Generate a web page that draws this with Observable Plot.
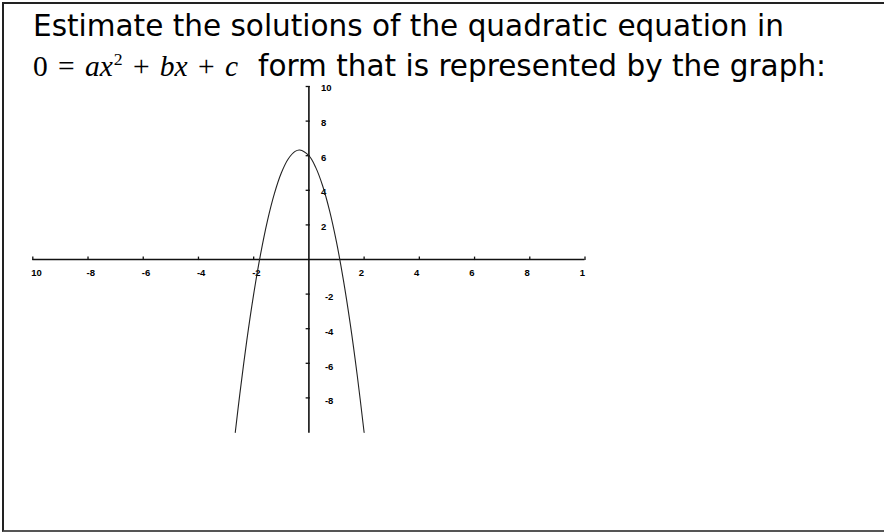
<!DOCTYPE html>
<html>
<head>
<meta charset="utf-8">
<script src="https://cdn.jsdelivr.net/npm/d3@7"></script>
<script src="https://cdn.jsdelivr.net/npm/@observablehq/plot@0.6"></script>
<style>
  html, body { margin: 0; padding: 0; background: #fff; }
  #slide { position: relative; width: 884px; height: 532px; overflow: hidden; background: #fff; }
  #frame { position: absolute; left: 2px; top: 2px; width: 900px; height: 526px;
           border-left: 2px solid #222; border-top: 2px solid #222; border-bottom: 2px solid #555; }
  .txt { position: absolute; font-family: "DejaVu Sans", sans-serif; font-size: 29.5px; line-height: 1;
         color: #000; white-space: nowrap; }
  .eq { position: absolute; font-family: "Liberation Serif", serif; font-size: 29.5px; line-height: 1;
        color: #000; white-space: nowrap; }
  .eq .op { margin: 0 0.35em; }
  .eq sup { font-size: 0.6em; vertical-align: 0.62em; line-height: 0; margin-left: 0.05em; }
  #graph { position: absolute; left: 20px; top: 80px; }
</style>
</head>
<body>
<div id="slide">
  <div id="frame"></div>
  <div class="txt" style="left:33px; top:12px;">Estimate the solutions of the quadratic equation in</div>
  <div class="eq" style="left:33px; top:52.3px;"><span>0</span><span class="op">=</span><i>ax</i><sup>2</sup><span class="op">+</span><i>bx</i><span class="op">+</span><i>c</i></div>
  <div class="txt" style="left:258px; top:52px;">form that is represented by the graph:</div>
  <div id="graph"></div>
</div>
<script>
// Tick values along each axis, with the labels printed beside them
const xTicks = [-10, -8, -6, -4, -2, 2, 4, 6, 8, 10];
const xTickLabels = ["10", "-8", "-6", "-4", "-2", "2", "4", "6", "8", "1"];
const yTicks = [-8, -6, -4, -2, 2, 4, 6, 8, 10];
const yTickLabels = ["-8", "-6", "-4", "-2", "2", "4", "6", "8", "10"];

// Points along the plotted parabola
const curveX = [-2.667, -2.5, -2.25, -2, -1.75, -1.5, -1.25, -1, -0.75, -0.5, -0.333, 0, 0.25, 0.5, 0.75, 1, 1.25, 1.5, 1.75, 2];
const curveY = [-10, -7.75, -4.69, -2, 0.31, 2.25, 3.81, 5, 5.81, 6.25, 6.33, 6, 5.31, 4.25, 2.81, 1, -1.19, -3.75, -6.69, -10];

const curve = curveX.map((x, i) => ({x, y: curveY[i]}));
const xLab = xTicks.map((v, i) => ({v, label: xTickLabels[i]}));
const yLab = yTicks.map((v, i) => ({v, label: yTickLabels[i]}));

const labelFont = {fontFamily: "Liberation Sans, Arial, sans-serif", fontSize: 9.5, fontWeight: "bold", fill: "#000"};
const axisStyle = {stroke: "#111", strokeWidth: 1.6};

const chart = Plot.plot({
  width: 580,
  height: 360,
  marginLeft: 12.3,
  marginRight: 15.5,
  marginTop: 6,
  marginBottom: 8,
  style: {background: "transparent"},
  x: {domain: [-10, 10], axis: null},
  y: {domain: [-10, 10], axis: null},
  marks: [
    // axes through the origin
    Plot.ruleY([0], {x1: () => -10, x2: () => 10, ...axisStyle}),
    Plot.ruleX([0], {y1: () => -10.05, y2: () => 10, ...axisStyle}),
    // tick marks
    Plot.ruleX(xTicks, {x: d => d, y1: () => 0.14, y2: () => -0.06, ...axisStyle, strokeWidth: 1.3}),
    Plot.ruleY(yTicks, {y: d => d, x1: () => -0.1, x2: () => 0.05, ...axisStyle, strokeWidth: 1.3}),
    // tick labels
    Plot.text(xLab.filter(d => d.v > 0), {x: "v", y: () => 0, text: "label", textAnchor: "end", dx: 0, dy: 13, ...labelFont}),
    Plot.text(xLab.filter(d => d.v < 0), {x: "v", y: () => 0, text: "label", textAnchor: "start", dx: -1.5, dy: 13, ...labelFont}),
    Plot.text(yLab.filter(d => d.v > 0), {x: () => 0, y: "v", text: "label", textAnchor: "start", dx: 12, dy: 1.8, ...labelFont}),
    Plot.text(yLab.filter(d => d.v < 0), {x: () => 0, y: "v", text: "label", textAnchor: "start", dx: 16, dy: 3.3, ...labelFont}),
    // the parabola
    Plot.line(curve, {x: "x", y: "y", curve: "catmull-rom", stroke: "#222", strokeWidth: 1.1})
  ]
});
document.getElementById("graph").appendChild(chart);
</script>
</body>
</html>
